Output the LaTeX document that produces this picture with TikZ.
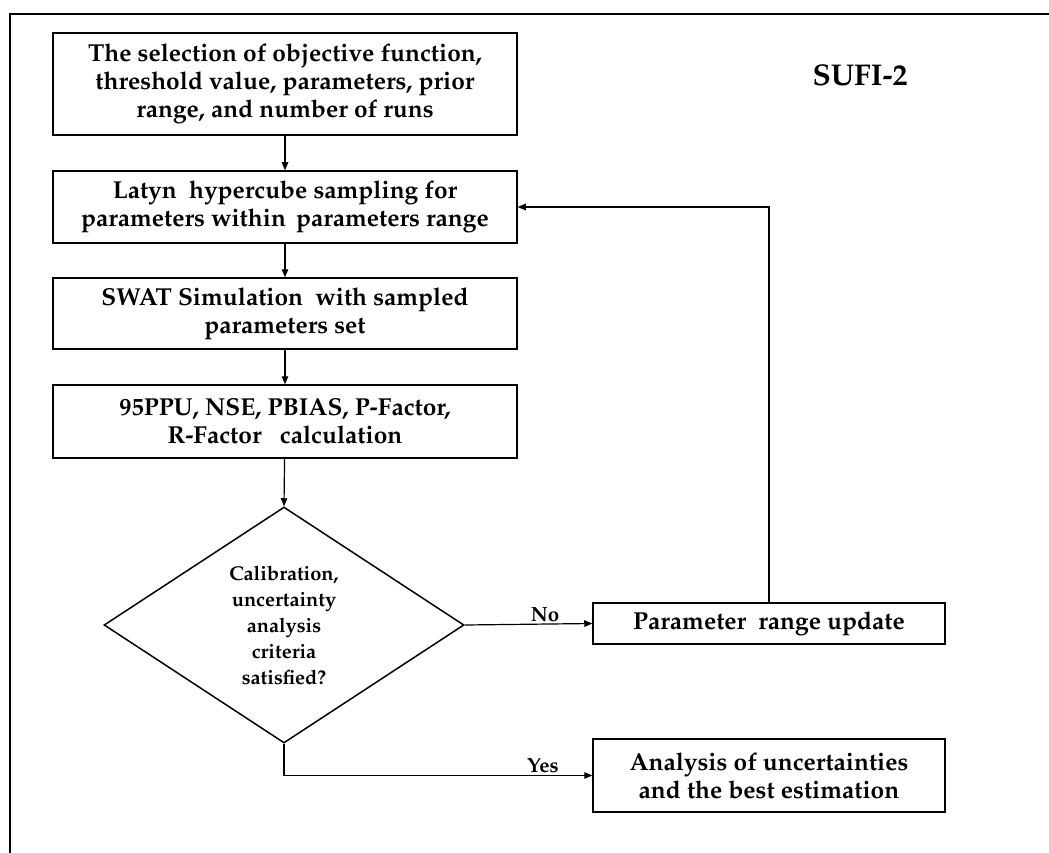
\documentclass[tikz,border=0pt]{standalone}
\usepackage[T1]{fontenc}
\usepackage{mathpazo}
\usetikzlibrary{arrows.meta,shapes.geometric}
\tikzset{
  stepbox/.style={draw, line width=1.5pt, inner sep=0pt, align=center,
    font=\bfseries\fontsize{24.5}{28}\selectfont},
  conn/.style={line width=1.2pt, -{Triangle[length=8pt,width=6.5pt]}},
  lbl/.style={font=\bfseries\fontsize{20.5}{22}\selectfont, inner sep=2pt},
}
\begin{document}
\begin{tikzpicture}[x=1pt,y=-1pt]
\useasboundingbox (0,0) rectangle (1049,853);
\draw[line width=1.8pt] (10,853) -- (10,14) -- (1049,14);
\node[font=\bfseries\fontsize{30}{34}\selectfont] (title) at (860,75) {SUFI-2};
\node[stepbox, minimum width=464pt, minimum height=102pt] (b1) at (285,84)
  {The selection of objective function,\\threshold value, parameters, prior\\range, and number of runs};
\node[stepbox, minimum width=464pt, minimum height=72pt] (b2) at (285,207)
  {Latyn\ \ hypercube sampling for\\parameters within\, parameters range};
\node[stepbox, minimum width=464pt, minimum height=71pt] (b3) at (285,313.5)
  {SWAT Simulation\ \ with sampled\\parameters set};
\node[stepbox, minimum width=464pt, minimum height=73pt] (b4) at (285,421.5)
  {95PPU, NSE, PBIAS, P-Factor,\\R-Factor\ \ \ calculation};
\node[draw, diamond, line width=1.5pt, minimum width=360pt, minimum height=236pt, inner sep=0pt,
  align=center, font=\bfseries\fontsize{20}{26}\selectfont] (dia) at (284,625)
  {Calibration,\\uncertainty\\analysis\\criteria\\satisfied?};
\node[stepbox, minimum width=352pt, minimum height=41pt] (upd) at (769,623.5)
  {Parameter\ \ range update};
\node[stepbox, minimum width=352pt, minimum height=73pt] (res) at (769,775.5)
  {Analysis of uncertainties\\and the best estimation};
\draw[conn] (b1) -- (b2);
\draw[conn] (b2) -- (b3);
\draw[conn] (b3) -- (b4);
\draw[conn] (b4) -- (dia.north);
\draw[conn] (dia.east) -- node[lbl, above, pos=0.63] {No} (upd.west);
\draw[conn] (dia.south) |- node[lbl, above, pos=0.92] {Yes} (res.west);
\draw[conn] (upd.north) |- (b2.east);
\end{tikzpicture}
\end{document}
